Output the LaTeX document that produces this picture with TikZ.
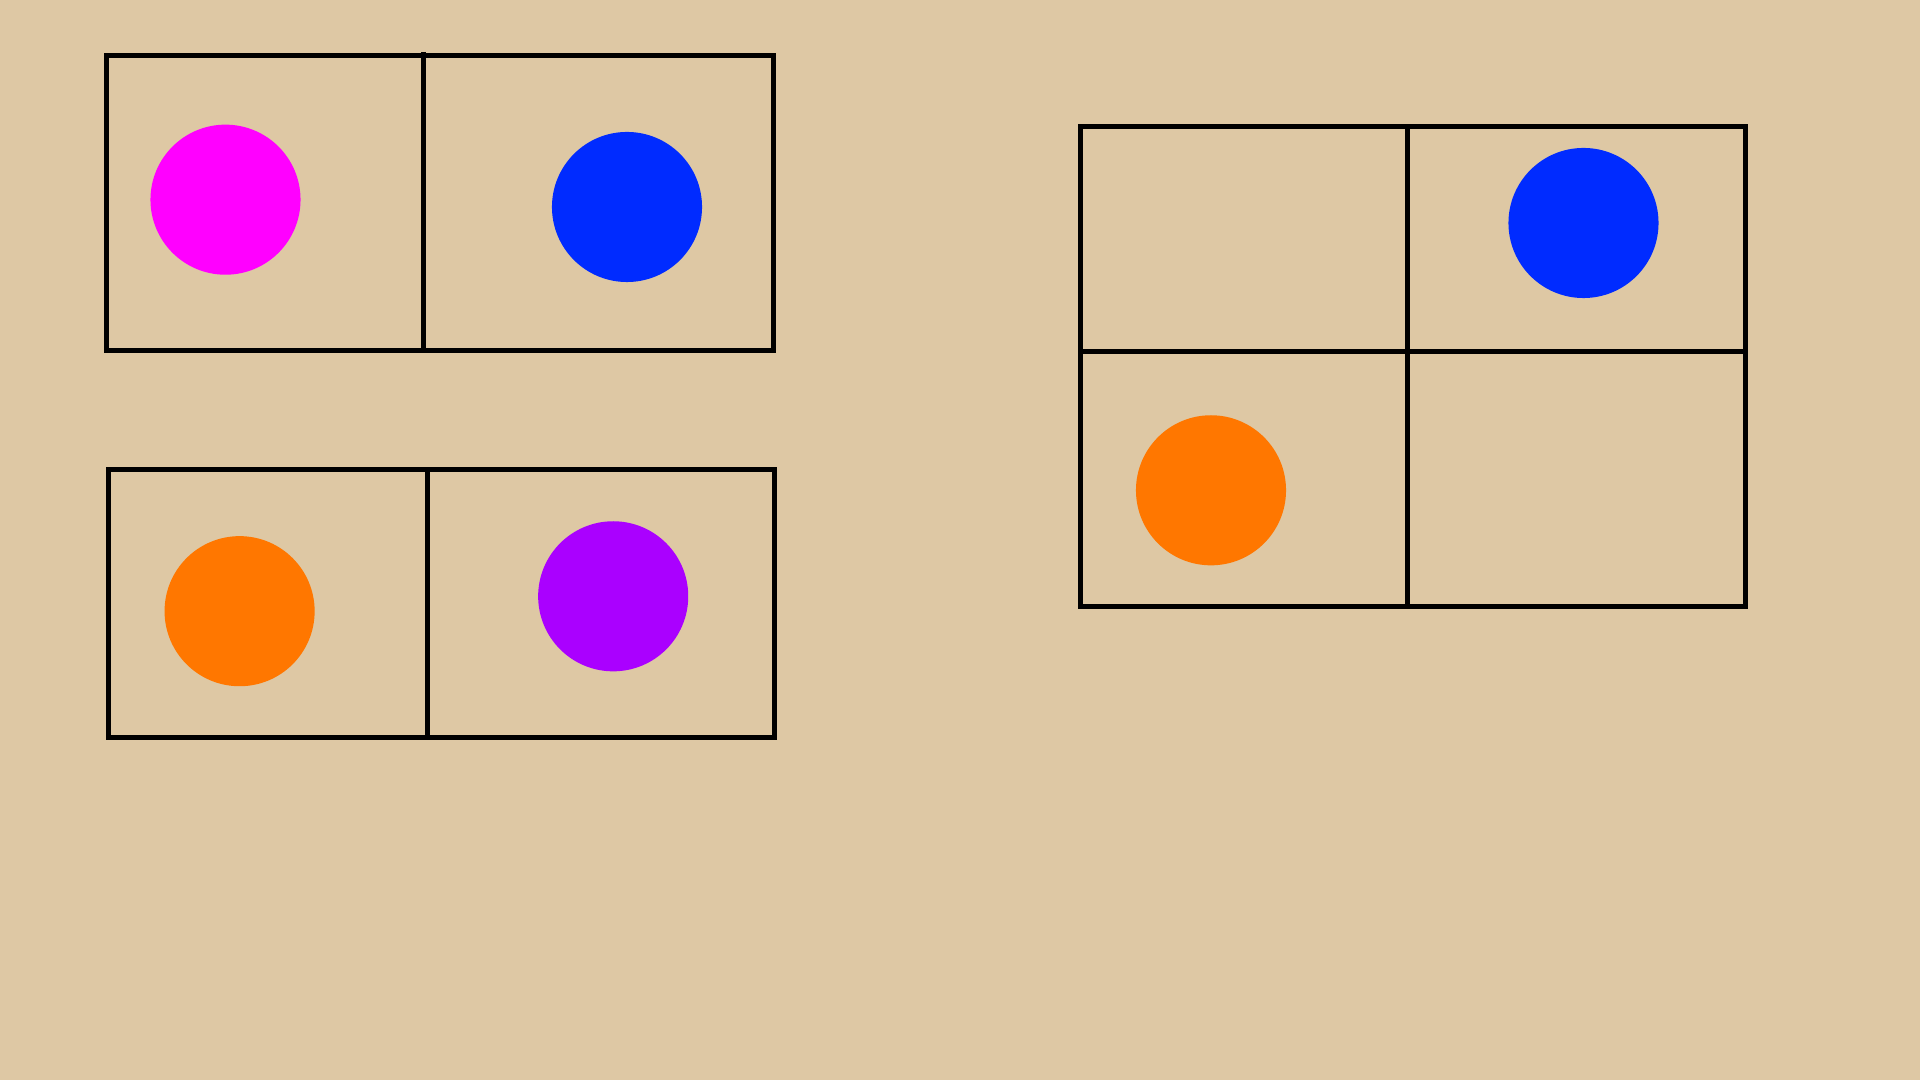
\documentclass[tikz,border=0pt]{standalone}
\definecolor{bg}{RGB}{222,200,164}
\definecolor{cmag}{RGB}{255,0,255}
\definecolor{cblue}{RGB}{0,43,255}
\definecolor{corange}{RGB}{255,119,0}
\definecolor{cpurple}{RGB}{170,0,255}
\tikzset{
  grid/.style={draw=black, line width=0.05cm},
  disc/.style={circle, minimum size=1.5cm, inner sep=0pt, draw=none},
}
\begin{document}
\begin{tikzpicture}[x=0.01cm,y=-0.01cm]
\fill[bg] (0,0) rectangle (1920,1080);
\useasboundingbox (0,0) rectangle (1920,1080);
% top-left
\draw[grid] (106.5,55.5) rectangle (773,351);
\draw[grid] (423.5,52) -- (423.5,351);
\node[disc, fill=cmag] (m1) at (225.5,199.7) {};
\node[disc, fill=cblue] (b1) at (627,207) {};
% bottom-left
\draw[grid] (108.5,469.7) rectangle (774.5,737.3);
\draw[grid] (427.5,469.7) -- (427.5,737.3);
\node[disc, fill=corange] (o1) at (239.6,611.2) {};
\node[disc, fill=cpurple] (p1) at (613.2,596.3) {};
% right
\draw[grid] (1080.5,126.3) rectangle (1745.7,606.3);
\draw[grid] (1407.8,126.3) -- (1407.8,606.3);
\draw[grid] (1080.5,352) -- (1745.7,352);
\node[disc, fill=cblue] (b2) at (1583.5,223) {};
\node[disc, fill=corange] (o2) at (1211,490.3) {};
\end{tikzpicture}
\end{document}
